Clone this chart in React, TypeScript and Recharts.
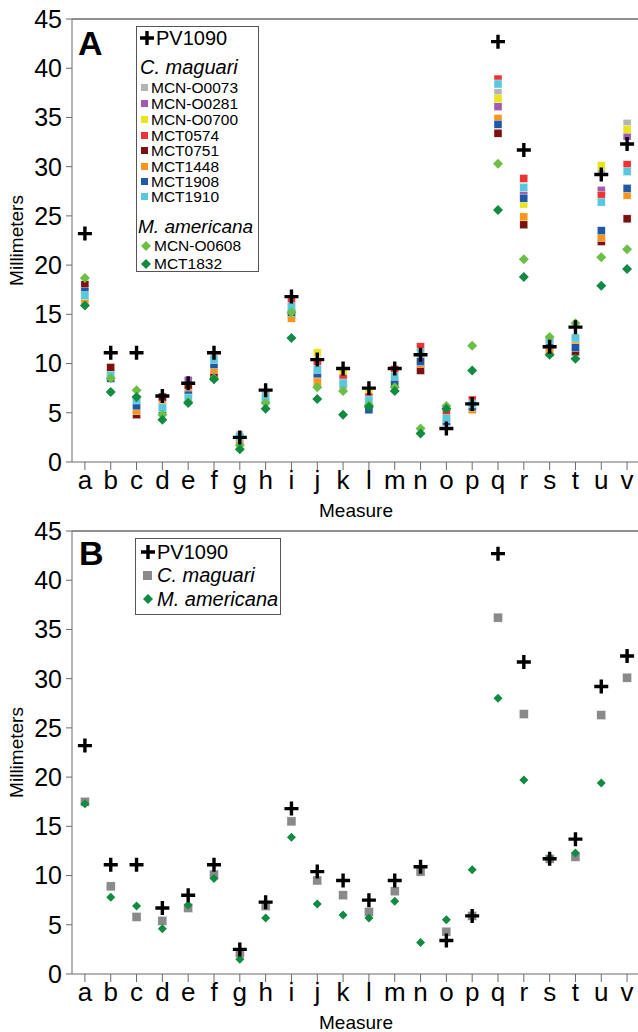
import React from 'react';
import { ScatterChart, Scatter, XAxis, YAxis, ReferenceLine } from 'recharts';

const measures = ['a', 'b', 'c', 'd', 'e', 'f', 'g', 'h', 'i', 'j', 'k', 'l', 'm', 'n', 'o', 'p', 'q', 'r', 's', 't', 'u', 'v'];
const yTicks = [0, 5, 10, 15, 20, 25, 30, 35, 40, 45];

// PV1090 (fossil)
const pv1090 = [23.2, 11.1, 11.1, 6.7, 8.0, 11.1, 2.5, 7.3, 16.8, 10.4, 9.5, 7.5, 9.5, 10.9, 3.4, 5.9, 42.7, 31.7, 11.7, 13.7, 29.2, 32.3];

// C. maguari specimens
const mcnO0073 = [16.9, 8.8, 6.2, 5.5, 6.8, 10.3, 2.4, 6.6, 15.5, 9.8, 8.2, 6.4, 8.5, 10.4, 4.4, 5.9, 37.5, 27.4, 11.8, 12.0, 29.5, 34.4];
const mcnO0281 = [16.4, 8.9, 6.1, 5.4, 8.3, 10.0, 2.4, 6.8, 15.4, 10.0, 8.3, 6.3, 8.4, 10.3, 4.5, 5.8, 36.1, 27.1, 11.6, 12.2, 27.6, 33.1];
const mcnO0700 = [16.6, 8.7, 6.3, 5.9, 7.0, 9.2, 2.5, 6.9, 15.9, 11.1, 9.2, 7.0, 8.7, 10.6, 4.6, 6.0, 36.9, 26.2, 11.9, 12.4, 30.1, 33.8];
const mct0574 = [17.6, 9.0, 6.4, 6.0, 7.3, 10.5, 2.7, 6.7, 16.3, 10.2, 8.5, 6.6, 9.4, 11.7, 4.9, 6.3, 38.9, 28.8, 12.2, 12.5, 27.1, 30.2];
const mct0751 = [18.0, 9.6, 4.8, 6.6, 7.5, 8.7, 2.3, 6.5, 15.0, 8.7, 8.1, 6.2, 8.2, 9.3, 4.2, 5.5, 33.4, 24.1, 11.3, 11.2, 22.4, 24.7];
const mct1448 = [16.5, 8.6, 5.2, 5.7, 7.0, 9.4, 2.2, 6.4, 14.6, 8.1, 7.8, 5.9, 8.1, 10.0, 4.2, 5.3, 34.9, 24.9, 11.1, 12.1, 22.8, 27.1];
const mct1908 = [17.3, 8.5, 5.7, 5.3, 6.8, 9.9, 2.5, 6.3, 15.2, 9.0, 7.9, 5.3, 8.0, 10.2, 4.1, 5.6, 34.3, 26.8, 12.1, 11.6, 23.5, 27.8];
const mct1910 = [16.9, 8.8, 6.3, 5.5, 6.5, 10.4, 2.6, 6.6, 15.8, 9.4, 8.0, 6.3, 8.7, 11.1, 4.4, 5.9, 38.4, 27.9, 12.4, 12.6, 26.4, 29.5];

// M. americana specimens
const mcnO0608 = [18.7, 8.5, 7.3, 4.8, 6.1, 8.5, 1.7, 6.0, 15.2, 7.6, 7.2, 5.8, 7.6, 3.4, 5.7, 11.8, 30.3, 20.6, 12.7, 14.1, 20.8, 21.6];
const mct1832 = [15.9, 7.1, 6.6, 4.3, 6.0, 8.4, 1.3, 5.4, 12.6, 6.4, 4.8, 5.6, 7.2, 2.9, 5.4, 9.3, 25.6, 18.8, 10.9, 10.5, 17.9, 19.6];

// panel B means
const maguariMean = [17.5, 8.9, 5.8, 5.4, 6.7, 10.1, 2.1, 6.9, 15.5, 9.5, 8.0, 6.3, 8.4, 10.4, 4.3, 5.9, 36.2, 26.4, 11.7, 11.9, 26.3, 30.1];
const americanaMean = [17.3, 7.8, 6.9, 4.6, 7.0, 9.7, 1.5, 5.7, 13.9, 7.1, 6.0, 5.7, 7.4, 3.2, 5.5, 10.6, 28.0, 19.7, 11.8, 12.3, 19.4, null];

const font = '"Liberation Sans", Arial, sans-serif';
const axisColor = '#6b6b6b';

const colors: Record<string, string> = {
  'MCN-O0073': '#b4b4b4',
  'MCN-O0281': '#a25bb0',
  'MCN-O0700': '#e9e41c',
  'MCT0574': '#ee3333',
  'MCT0751': '#7b1212',
  'MCT1448': '#f7961f',
  'MCT1908': '#2058a8',
  'MCT1910': '#58c8dc',
  'MCN-O0608': '#6cbf45',
  'MCT1832': '#118a42',
};

const maguariA: [string, (number | null)[]][] = [
  ['MCN-O0073', mcnO0073],
  ['MCN-O0281', mcnO0281],
  ['MCN-O0700', mcnO0700],
  ['MCT0574', mct0574],
  ['MCT0751', mct0751],
  ['MCT1448', mct1448],
  ['MCT1908', mct1908],
  ['MCT1910', mct1910],
];
const americanaA: [string, (number | null)[]][] = [
  ['MCN-O0608', mcnO0608],
  ['MCT1832', mct1832],
];

const toPoints = (vals: (number | null)[]) =>
  vals.map((v, i) => ({ i, v })).filter((p) => p.v != null);

const crossShape = (p: any) => {
  const { cx, cy } = p;
  if (cx == null || cy == null || isNaN(cy)) return <g />;
  return (
    <path d={`M${cx - 7},${cy}H${cx + 7}M${cx},${cy - 7}V${cy + 7}`} stroke="#000" strokeWidth={3.4} fill="none" />
  );
};
const squareShape = (color: string, s: number) => (p: any) => {
  const { cx, cy } = p;
  if (cx == null || cy == null || isNaN(cy)) return <g />;
  return <rect x={cx - s / 2} y={cy - s / 2} width={s} height={s} fill={color} stroke="#fff" strokeWidth={0.4} />;
};
const diamondShape = (color: string, r: number) => (p: any) => {
  const { cx, cy } = p;
  if (cx == null || cy == null || isNaN(cy)) return <g />;
  return <path d={`M${cx},${cy - r}L${cx + r},${cy}L${cx},${cy + r}L${cx - r},${cy}Z`} fill={color} />;
};

type Layer = { key: string; data: (number | null)[]; shape: (p: any) => React.ReactElement };

// both panels share the same geometry: plot from y=19 to y=462 inside a 520px chart
function Panel({ layers }: { layers: Layer[] }) {
  return (
    <ScatterChart width={640} height={520} margin={{ top: 19, right: 0, bottom: 0, left: 0 }}>
      <XAxis
        type="number"
        dataKey="i"
        domain={[-0.5, 21.5]}
        ticks={measures.map((_, i) => i)}
        tickFormatter={(i: number) => measures[i]}
        interval={0}
        height={58}
        tickSize={8}
        tickMargin={1}
        stroke={axisColor}
        tick={{ fill: '#000', fontSize: 26, fontFamily: font }}
        label={{ value: 'Measure', position: 'insideBottom', offset: 3, style: { fill: '#000', fontSize: 19, fontFamily: font } }}
      />
      <YAxis
        type="number"
        dataKey="v"
        domain={[0, 45]}
        ticks={yTicks}
        interval={0}
        width={72}
        tickSize={6}
        tickMargin={4}
        stroke={axisColor}
        tick={{ fill: '#000', fontSize: 25, fontFamily: font }}
        label={{ value: 'Millimeters', angle: -90, position: 'insideLeft', offset: 16, style: { textAnchor: 'middle', fill: '#000', fontSize: 19, fontFamily: font } }}
      />
      <ReferenceLine y={45} stroke={axisColor} strokeWidth={1.5} />
      {layers.map((l) => (
        <Scatter key={l.key} name={l.key} data={toPoints(l.data)} shape={l.shape} isAnimationActive={false} />
      ))}
    </ScatterChart>
  );
}

const abs = (left: number, top: number, extra: React.CSSProperties = {}): React.CSSProperties => ({
  position: 'absolute',
  left,
  top,
  whiteSpace: 'nowrap',
  lineHeight: 1,
  ...extra,
});

const CrossIcon = () => (
  <svg width={14} height={14} style={{ display: 'block' }}>
    <path d="M0,7H14M7,0V14" stroke="#000" strokeWidth={3.4} />
  </svg>
);
const SquareIcon = ({ color, s }: { color: string; s: number }) => (
  <svg width={s} height={s} style={{ display: 'block' }}>
    <rect width={s} height={s} fill={color} />
  </svg>
);
const DiamondIcon = ({ color, r }: { color: string; r: number }) => (
  <svg width={2 * r} height={2 * r} style={{ display: 'block' }}>
    <path d={`M${r},0L${2 * r},${r}L${r},${2 * r}L0,${r}Z`} fill={color} />
  </svg>
);

export default function App() {
  const layersA: Layer[] = [
    ...maguariA.map(([name, vals]) => ({ key: name, data: vals, shape: squareShape(colors[name], 8) })),
    ...americanaA.map(([name, vals]) => ({ key: name, data: vals, shape: diamondShape(colors[name], 5) })),
    { key: 'PV1090', data: pv1090, shape: crossShape },
  ];
  const layersB: Layer[] = [
    { key: 'C. maguari', data: maguariMean, shape: squareShape('#8a8a8a', 9) },
    { key: 'M. americana', data: americanaMean, shape: diamondShape('#118a42', 4.5) },
    { key: 'PV1090', data: pv1090, shape: crossShape },
  ];

  const entryTopsA = [80, 96, 112, 128, 143, 159, 174, 189];

  return (
    <div style={{ position: 'absolute', left: 0, top: 0, width: 638, height: 1032, overflow: 'hidden', background: '#fff', fontFamily: font, color: '#000' }}>
      <div style={abs(0, 0)}>
        <Panel layers={layersA} />
      </div>
      <div style={abs(0, 512)}>
        <Panel layers={layersB} />
      </div>

      {/* panel letters */}
      <div style={abs(78, 26, { fontSize: 34, fontWeight: 'bold' })}>A</div>
      <div style={abs(79, 536, { fontSize: 34, fontWeight: 'bold' })}>B</div>

      {/* legend A */}
      <div style={abs(136, 26, { width: 123, height: 246, border: '1px solid #555', boxSizing: 'border-box' })} />
      <div style={abs(140, 31)}><CrossIcon /></div>
      <div style={abs(156, 28, { fontSize: 20 })}>PV1090</div>
      <div style={abs(140, 57, { fontSize: 20, fontStyle: 'italic' })}>C. maguari</div>
      {maguariA.map(([name], k) => (
        <React.Fragment key={name}>
          <div style={abs(141, entryTopsA[k] + 4)}><SquareIcon color={colors[name]} s={7} /></div>
          <div style={abs(151, entryTopsA[k], { fontSize: 15.5 })}>{name}</div>
        </React.Fragment>
      ))}
      <div style={abs(138, 217, { fontSize: 19, fontStyle: 'italic' })}>M. americana</div>
      {americanaA.map(([name], k) => (
        <React.Fragment key={name}>
          <div style={abs(141, 241 + k * 18)}><DiamondIcon color={colors[name]} r={5} /></div>
          <div style={abs(154, 238 + k * 18, { fontSize: 15.5 })}>{name}</div>
        </React.Fragment>
      ))}

      {/* legend B */}
      <div style={abs(135, 538, { width: 146, height: 77, border: '1px solid #555', boxSizing: 'border-box' })} />
      <div style={abs(141, 545)}><CrossIcon /></div>
      <div style={abs(157, 542, { fontSize: 20 })}>PV1090</div>
      <div style={abs(143, 571)}><SquareIcon color="#8a8a8a" s={9} /></div>
      <div style={abs(157, 565, { fontSize: 20, fontStyle: 'italic' })}>C. maguari</div>
      <div style={abs(143, 594)}><DiamondIcon color="#118a42" r={5} /></div>
      <div style={abs(157, 589, { fontSize: 20, fontStyle: 'italic' })}>M. americana</div>
    </div>
  );
}
